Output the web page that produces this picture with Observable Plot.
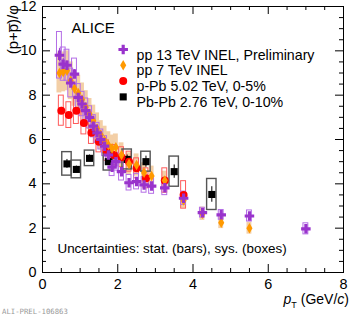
<!DOCTYPE html>
<html>
<head>
<meta charset="utf-8">
<script src="https://cdn.jsdelivr.net/npm/d3@7"></script>
<script src="https://cdn.jsdelivr.net/npm/@observablehq/plot@0.6"></script>
<style>
body { margin: 0; background: white; }
#chart { position: relative; width: 354px; height: 317px; }
</style>
</head>
<body>
<div id="chart"></div>
<script>
// pp 13 TeV INEL, Preliminary
const pp13Pt    = [0.45,0.55,0.65,0.75,0.85,0.95,1.05,1.15,1.25,1.35,1.45,1.55,1.65,1.75,1.85,1.95,2.1,2.3,2.5,2.7,2.9,3.25,3.75,4.25,4.75,5.5,7.0];
const pp13Ratio = [9.8,9.4,9.35,8.55,8.95,7.9,7.6,7.3,7.0,6.6,6.3,6.0,5.7,5.3,4.75,5.0,4.55,4.05,4.1,3.95,3.9,3.82,3.35,2.7,2.6,2.55,1.97];
const pp13Stat  = [0.3,0.25,0.2,0.2,0.2,0.15,0.15,0.12,0.12,0.1,0.1,0.1,0.1,0.1,0.1,0.1,0.1,0.1,0.1,0.1,0.1,0.1,0.1,0.1,0.1,0.12,0.12];
const pp13Sys   = [1.05,0.75,0.7,0.65,0.7,0.6,0.55,0.55,0.5,0.5,0.45,0.45,0.45,0.4,0.4,0.4,0.4,0.35,0.35,0.35,0.35,0.33,0.3,0.22,0.22,0.25,0.25];

// pp 7 TeV INEL
const pp7Pt    = [0.45,0.55,0.65,0.75,0.85,0.95,1.05,1.15,1.25,1.35,1.45,1.55,1.65,1.75,1.85,1.95,2.1,2.3,2.5,2.7,2.9,3.25,3.75,4.25,4.75,5.5];
const pp7Ratio = [9.0,9.05,9.1,8.65,8.3,8.1,7.8,7.45,7.15,6.85,6.5,6.2,5.95,5.75,5.6,5.65,5.3,4.9,4.85,4.5,4.35,4.15,3.25,2.65,2.25,2.0];
const pp7Sys   = [0.9,0.9,0.9,0.85,0.8,0.8,0.75,0.75,0.7,0.7,0.7,0.65,0.65,0.6,0.6,0.6,0.55,0.5,0.5,0.45,0.45,0.42,0.35,0.3,0.27,0.27];

// p-Pb 5.02 TeV, 0-5%
const pPbPt    = [0.5,0.7,0.9,1.1,1.3,1.5,1.7,1.9,2.1,2.3,2.5,2.75,3.25,3.75];
const pPbRatio = [7.3,7.1,7.3,6.75,6.3,5.9,5.5,5.3,5.2,5.0,4.7,4.25,4.15,3.5];
const pPbStat  = [0.15,0.12,0.1,0.1,0.08,0.08,0.08,0.08,0.08,0.08,0.08,0.08,0.1,0.12];
const pPbSys   = [0.68,0.58,0.6,0.52,0.5,0.48,0.46,0.45,0.45,0.45,0.45,0.45,0.55,0.62];

// Pb-Pb 2.76 TeV, 0-10%
const PbPbPt    = [0.65,0.9,1.25,1.75,2.25,2.75,3.5,4.5];
const PbPbRatio = [4.9,4.65,5.15,5.0,5.1,5.0,4.55,3.52];
const PbPbStat  = [0.2,0.15,0.15,0.15,0.2,0.25,0.3,0.35];
const PbPbSys   = [0.53,0.4,0.35,0.4,0.45,0.45,0.68,0.7];

const legendLabels = ["pp 13 TeV INEL, Preliminary","pp 7 TeV INEL","p-Pb 5.02 TeV, 0-5%","Pb-Pb 2.76 TeV, 0-10%"];
const xMajor = [0,2,4,6,8];
const yMajor = [0,2,4,6,8,10,12];
const xMinor = d3.range(0.5, 8, 0.5).filter(v => v % 2 !== 0);
const yMinor = d3.range(0.5, 12, 0.5).filter(v => v % 2 !== 0);

const mk = (pt, r, stat, sys) => pt.map((x, i) => ({x, y: r[i], stat: stat ? stat[i] : 0, sys: sys[i]}));
const pp13 = mk(pp13Pt, pp13Ratio, pp13Stat, pp13Sys);
const pp7  = mk(pp7Pt, pp7Ratio, null, pp7Sys);
const pPb  = mk(pPbPt, pPbRatio, pPbStat, pPbSys);
const PbPb = mk(PbPbPt, PbPbRatio, PbPbStat, PbPbSys);

const W = 354, H = 317, ML = 42, MR = 11, MT = 6, MB = 45;
const FW = W - ML - MR, FH = H - MT - MB;
const BW = 0.065, BWPb = 0.125;

const PURPLE = "#9933cc", ORANGE = "#ff9900", RED = "#ff0000";
const FONT = "'Liberation Sans', Arial, sans-serif";

const boxes = (data, hw, opts) => Plot.rect(data, {
  x1: d => d.x - hw, x2: d => d.x + hw, y1: d => d.y - d.sys, y2: d => d.y + d.sys, ...opts});
const bars = (data, opts) => Plot.ruleX(data, {x: "x", y1: d => d.y - d.stat, y2: d => d.y + d.stat, ...opts});

const legendColors = [PURPLE, ORANGE, RED, "black"];
const legendSymbols = ["cross", "diamond", "circle", "square"];
const legendR = [4, 3.2, 4, 4];
const rowY = [43, 58.8, 74.6, 90.4];

const plot = Plot.plot({
  width: W, height: H,
  marginLeft: ML, marginRight: MR, marginTop: MT, marginBottom: MB,
  x: {domain: [0, 8]},
  y: {domain: [0, 12]},
  style: {fontFamily: FONT, fontSize: "14.4px", color: "black", background: "white"},
  marks: [
    boxes(pp7, BW, {fill: "#f3cfa6", stroke: "none"}),
    boxes(pPb, BW, {fill: "none", stroke: "#ff5a5a", strokeWidth: 1}),
    boxes(pp13, BW, {fill: "none", stroke: "#b46ee6", strokeWidth: 1}),
    boxes(PbPb, BWPb, {fill: "none", stroke: "#555", strokeWidth: 1.4}),
    bars(PbPb, {stroke: "black", strokeWidth: 1}),
    bars(pPb, {stroke: RED, strokeWidth: 1}),
    bars(pp13, {stroke: PURPLE, strokeWidth: 1}),
    Plot.dot(PbPb, {x: "x", y: "y", symbol: "square", r: 4, fill: "black"}),
    Plot.dot(pPb, {x: "x", y: "y", symbol: "circle", r: 4, fill: RED}),
    Plot.dot(pp7, {x: "x", y: "y", symbol: "diamond", r: 3.2, fill: ORANGE}),
    Plot.dot(pp13, {x: "x", y: "y", symbol: "cross", r: 4, fill: PURPLE}),
    Plot.frame({stroke: "black", strokeWidth: 1}),
    Plot.tickY(yMajor, {y: d => d, insetRight: FW - 8, stroke: "black"}),
    Plot.tickY(yMinor, {y: d => d, insetRight: FW - 4, stroke: "black"}),
    Plot.tickY(yMajor, {y: d => d, insetLeft: FW - 8, stroke: "black"}),
    Plot.tickY(yMinor, {y: d => d, insetLeft: FW - 4, stroke: "black"}),
    Plot.tickX(xMajor, {x: d => d, insetTop: FH - 8, stroke: "black"}),
    Plot.tickX(xMinor, {x: d => d, insetTop: FH - 4, stroke: "black"}),
    Plot.tickX(xMajor, {x: d => d, insetBottom: FH - 8, stroke: "black"}),
    Plot.tickX(xMinor, {x: d => d, insetBottom: FH - 4, stroke: "black"}),
    Plot.axisY({ticks: yMajor, tickSize: 0, tickPadding: 6, label: null, fontSize: 14.4}),
    Plot.axisX({ticks: xMajor, tickSize: 0, tickPadding: 6, label: null, fontSize: 14.4}),
    Plot.text(["ALICE"], {frameAnchor: "top-left", dx: 29, dy: 16, textAnchor: "start", fontSize: 15}),
    ...legendLabels.map((lab, i) => Plot.text([lab], {frameAnchor: "top-left", dx: 94, dy: rowY[i], textAnchor: "start", fontSize: 14.2})),
    ...legendLabels.map((lab, i) => Plot.dot([lab], {frameAnchor: "top-left", dx: 80.7, dy: rowY[i], symbol: legendSymbols[i], r: legendR[i], fill: legendColors[i]})),
    Plot.text(["Uncertainties: stat. (bars), sys. (boxes)"], {frameAnchor: "bottom-left", dx: 15, dy: -20, textAnchor: "start", fontSize: 13.4})
  ]
});

const svg = d3.select(plot);

// y-axis title
svg.append("text")
  .attr("transform", "translate(13,5) rotate(-90)")
  .attr("text-anchor", "end")
  .attr("dy", "0.35em")
  .attr("font-family", FONT)
  .attr("font-size", 15)
  .attr("fill", "black")
  .text("(p+p\u0305)/\u03C6");

// x-axis title
const t = svg.append("text")
  .attr("x", 349).attr("y", 304)
  .attr("text-anchor", "end")
  .attr("font-family", FONT)
  .attr("font-size", 14)
  .attr("fill", "black");
t.append("tspan").attr("font-style", "italic").text("p");
t.append("tspan").attr("font-size", 9).attr("dy", 4).text("T");
t.append("tspan").attr("dy", -4).text(" (GeV/");
t.append("tspan").attr("font-style", "italic").text("c");
t.append("tspan").text(")");

svg.append("text")
  .attr("x", 2).attr("y", 314)
  .attr("text-anchor", "start")
  .attr("font-family", "'DejaVu Sans Mono', monospace")
  .attr("font-size", 7.3)
  .attr("fill", "#999")
  .text("ALI-PREL-106863");

document.getElementById("chart").appendChild(plot);
</script>
</body>
</html>
